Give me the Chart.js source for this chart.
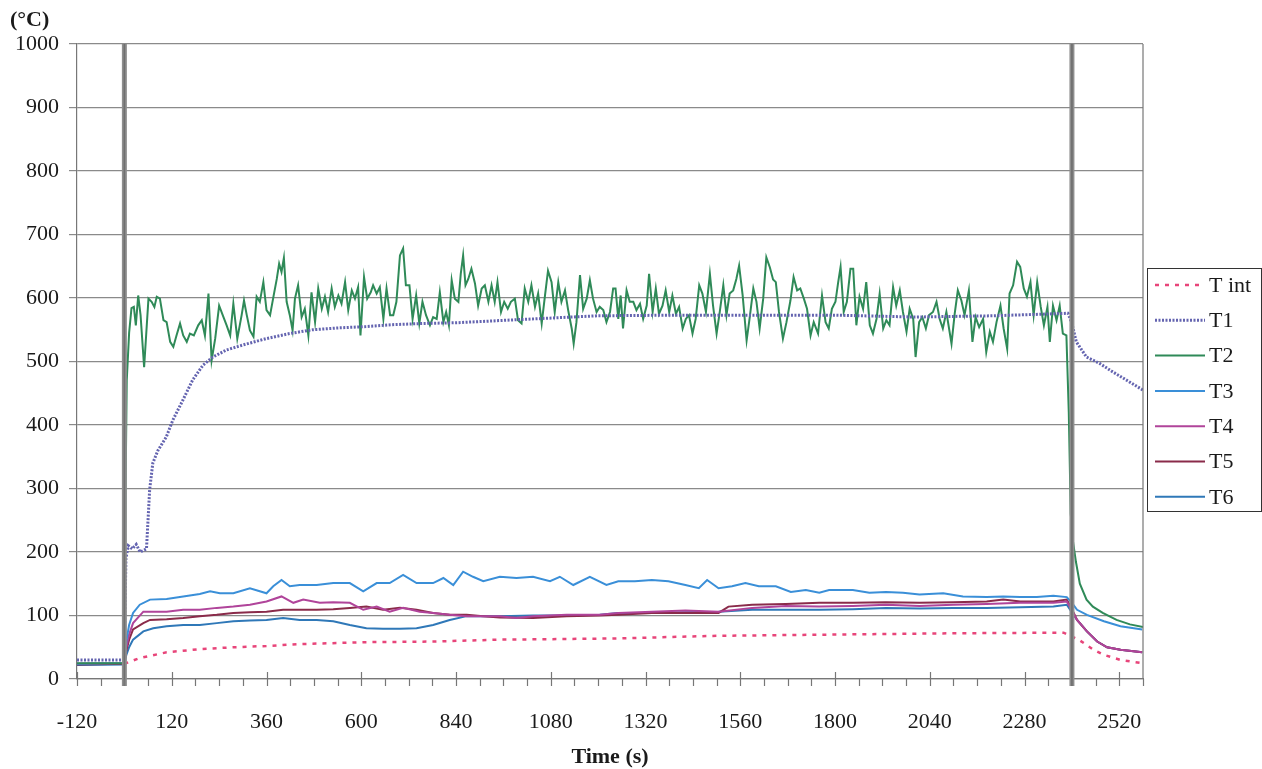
<!DOCTYPE html>
<html>
<head>
<meta charset="utf-8">
<script src="https://cdn.jsdelivr.net/npm/chart.js@4.4.0/dist/chart.umd.min.js"></script>
<style>
  body { margin: 0; background: #fff; }
  #wrap { width: 1262px; height: 769px; }
</style>
</head>
<body>
<div id="wrap"><canvas id="myChart" width="1262" height="769"></canvas></div>
<script>
// temps (°C) vs time (s); fire between 0 and 2400 s
const xTicks = [-120, 120, 360, 600, 840, 1080, 1320, 1560, 1800, 2040, 2280, 2520];
const fireStart = 0;
const fireEnd = 2400;
const seriesNames = ['T int', 'T1', 'T2', 'T3', 'T4', 'T5', 'T6'];

const tInt = [0, 39, 107, 191, 276, 360, 444, 613, 782, 951, 1120, 1251, 1500, 1800, 2100, 2379, 2417, 2455, 2481, 2523, 2578];
const vInt = [24, 33, 42, 47, 50, 52, 55, 58, 59, 62, 63, 64, 68, 70, 72, 73, 62, 46, 38, 30, 25];

const tT1 = [-120, -1, 4, 10, 20, 30, 40, 50, 56, 64, 72, 85, 106, 123, 148, 173, 199, 224, 258, 300, 359, 418, 477, 545, 612, 680, 760, 840, 1000, 1200, 1400, 1600, 1800, 2000, 2200, 2300, 2390, 2400, 2411, 2437, 2470, 2500, 2540, 2580];
const vT1 = [30, 30, 190, 210, 205, 212, 200, 203, 205, 298, 340, 360, 381, 408, 439, 471, 494, 507, 518, 526, 536, 544, 550, 553, 555, 558, 560, 561, 566, 572, 573, 573, 573, 570, 572, 574, 576, 560, 531, 507, 497, 485, 470, 455];

const tT2 = [-120, 0, 3, 6, 12, 18, 24, 29, 35, 41, 50, 61, 69, 76, 82, 90, 99, 107, 116, 124, 132, 141, 149, 158, 166, 176, 187, 196, 204, 213, 221, 230, 240, 251, 259, 268, 276, 286, 297, 303, 310, 318, 327, 335, 343, 352, 360, 369, 379, 386, 392, 398, 404, 411, 419, 426, 432, 440, 449, 457, 466, 474, 483, 491, 500, 508, 516, 525, 533, 542, 550, 559, 567, 576, 584, 592, 598, 607, 615, 624, 630, 639, 647, 656, 664, 673, 681, 689, 698, 706, 713, 722, 730, 739, 747, 755, 764, 774, 782, 791, 799, 808, 815, 822, 829, 837, 846, 852, 858, 864, 871, 879, 888, 896, 905, 913, 922, 930, 938, 945, 954, 962, 971, 979, 989, 997, 1006, 1014, 1023, 1031, 1040, 1048, 1057, 1065, 1073, 1082, 1090, 1099, 1107, 1116, 1124, 1133, 1138, 1145, 1154, 1162, 1171, 1179, 1187, 1196, 1204, 1213, 1221, 1230, 1238, 1244, 1251, 1257, 1263, 1272, 1280, 1289, 1297, 1306, 1314, 1323, 1329, 1338, 1346, 1354, 1363, 1371, 1380, 1388, 1397, 1405, 1414, 1422, 1430, 1439, 1447, 1456, 1464, 1473, 1483, 1491, 1500, 1508, 1517, 1525, 1533, 1542, 1550, 1557, 1566, 1576, 1584, 1593, 1601, 1609, 1618, 1626, 1635, 1643, 1650, 1658, 1668, 1677, 1687, 1695, 1704, 1712, 1721, 1729, 1738, 1746, 1757, 1767, 1776, 1784, 1792, 1801, 1808, 1814, 1822, 1830, 1839, 1846, 1854, 1862, 1871, 1879, 1888, 1896, 1905, 1913, 1922, 1930, 1938, 1947, 1955, 1964, 1972, 1981, 1989, 1998, 2004, 2013, 2021, 2030, 2038, 2048, 2057, 2065, 2073, 2082, 2095, 2103, 2111, 2120, 2128, 2139, 2148, 2156, 2165, 2175, 2183, 2192, 2200, 2209, 2219, 2227, 2236, 2242, 2251, 2261, 2269, 2278, 2286, 2295, 2303, 2312, 2321, 2329, 2338, 2344, 2352, 2361, 2369, 2377, 2386, 2392, 2397, 2403, 2410, 2420, 2437, 2453, 2478, 2513, 2547, 2580];
const vT2 = [25, 25, 300, 470, 545, 584, 586, 557, 604, 573, 491, 599, 594, 586, 602, 599, 565, 562, 531, 523, 541, 560, 541, 531, 544, 541, 557, 565, 541, 607, 502, 536, 588, 570, 557, 541, 591, 536, 573, 596, 573, 549, 539, 602, 594, 625, 581, 573, 607, 630, 654, 641, 663, 594, 573, 549, 599, 620, 570, 583, 541, 609, 562, 615, 583, 602, 578, 615, 586, 604, 591, 625, 581, 612, 599, 617, 541, 633, 599, 609, 620, 607, 617, 567, 615, 573, 573, 594, 667, 678, 620, 620, 567, 604, 560, 594, 573, 557, 570, 567, 609, 562, 578, 557, 628, 599, 594, 638, 667, 620, 630, 646, 623, 588, 615, 620, 594, 620, 594, 625, 578, 594, 583, 594, 599, 565, 560, 615, 594, 620, 586, 607, 560, 602, 643, 625, 578, 625, 594, 612, 581, 552, 528, 562, 636, 583, 599, 628, 599, 578, 586, 581, 562, 578, 615, 615, 567, 604, 552, 612, 594, 594, 581, 591, 567, 588, 638, 578, 615, 575, 588, 612, 578, 604, 575, 586, 552, 567, 573, 544, 567, 620, 607, 578, 638, 588, 544, 578, 620, 573, 607, 612, 630, 651, 604, 533, 570, 615, 594, 552, 599, 664, 648, 629, 625, 578, 536, 562, 596, 633, 612, 615, 599, 583, 541, 562, 544, 604, 562, 552, 583, 594, 625, 649, 578, 594, 646, 646, 557, 602, 583, 625, 557, 544, 567, 607, 552, 565, 557, 617, 588, 612, 578, 547, 583, 567, 507, 562, 570, 552, 573, 578, 594, 567, 552, 578, 528, 575, 612, 596, 573, 612, 531, 570, 554, 567, 515, 547, 531, 562, 588, 552, 520, 607, 620, 657, 649, 615, 602, 625, 573, 625, 586, 557, 586, 531, 588, 565, 588, 544, 541, 420, 260, 215, 185, 150, 125, 114, 104, 93, 86, 82];

const tT3 = [-120, 0, 5, 12, 22, 39, 65, 107, 149, 191, 217, 242, 276, 318, 360, 377, 398, 419, 444, 487, 529, 571, 605, 639, 672, 706, 740, 782, 808, 833, 858, 883, 909, 951, 993, 1035, 1078, 1103, 1137, 1179, 1221, 1251, 1293, 1336, 1378, 1421, 1455, 1476, 1505, 1539, 1573, 1607, 1650, 1688, 1726, 1760, 1785, 1845, 1887, 1929, 1972, 2014, 2074, 2124, 2184, 2226, 2269, 2311, 2353, 2387, 2400, 2413, 2438, 2481, 2523, 2578];
const vT3 = [24, 25, 60, 85, 104, 117, 125, 126, 130, 134, 138, 135, 135, 143, 135, 146, 156, 146, 148, 148, 151, 151, 138, 151, 151, 164, 151, 151, 159, 148, 169, 161, 154, 161, 159, 161, 154, 161, 148, 161, 148, 154, 154, 156, 154, 148, 143, 156, 143, 146, 151, 146, 146, 137, 140, 136, 140, 140, 136, 137, 136, 133, 135, 130, 129, 130, 129, 129, 131, 129, 120, 109, 101, 91, 83, 78];

const tT4 = [-120, 0, 5, 12, 22, 48, 107, 149, 191, 234, 276, 318, 360, 398, 428, 453, 495, 529, 571, 605, 639, 672, 706, 748, 782, 824, 867, 909, 951, 993, 1035, 1120, 1204, 1251, 1336, 1421, 1505, 1590, 1675, 1760, 1845, 1929, 2014, 2099, 2184, 2269, 2353, 2387, 2400, 2413, 2438, 2464, 2489, 2523, 2578];
const vT4 = [24, 25, 50, 70, 88, 106, 106, 109, 109, 112, 114, 117, 122, 130, 120, 125, 120, 121, 120, 109, 114, 106, 112, 106, 104, 101, 99, 99, 99, 96, 99, 101, 101, 104, 106, 108, 106, 112, 115, 114, 115, 117, 115, 117, 118, 120, 120, 122, 108, 93, 75, 59, 50, 46, 42];

const tT5 = [-120, 0, 5, 12, 22, 48, 65, 107, 149, 191, 234, 276, 318, 360, 402, 444, 487, 529, 571, 613, 655, 698, 740, 782, 824, 867, 909, 951, 1035, 1120, 1204, 1251, 1336, 1421, 1505, 1530, 1590, 1675, 1760, 1845, 1929, 2014, 2099, 2184, 2226, 2269, 2353, 2387, 2400, 2413, 2438, 2464, 2489, 2523, 2578];
const vT5 = [23, 24, 45, 62, 78, 88, 93, 94, 96, 99, 101, 104, 105, 106, 109, 109, 109, 110, 112, 114, 109, 112, 109, 104, 101, 101, 99, 97, 96, 99, 100, 101, 104, 104, 104, 114, 117, 118, 120, 120, 121, 120, 121, 122, 125, 122, 122, 125, 110, 93, 75, 59, 50, 46, 42];

const tT6 = [-120, 0, 5, 12, 22, 48, 73, 107, 149, 191, 234, 276, 318, 360, 402, 444, 487, 529, 571, 613, 655, 698, 740, 782, 824, 867, 909, 951, 1035, 1120, 1204, 1251, 1336, 1421, 1505, 1590, 1675, 1760, 1845, 1929, 2014, 2099, 2184, 2269, 2353, 2387, 2400, 2413, 2438, 2464, 2489, 2523, 2578];
const vT6 = [22, 23, 38, 50, 62, 75, 80, 83, 85, 85, 88, 91, 92, 93, 96, 93, 93, 91, 85, 80, 79, 79, 80, 85, 93, 99, 99, 99, 100, 100, 101, 104, 104, 105, 106, 109, 109, 109, 110, 112, 111, 112, 112, 113, 114, 117, 105, 93, 75, 59, 50, 46, 42];

const serifFont = '"Liberation Serif", "Times New Roman", serif';

function pts(ts, vs) {
    return ts.map((t, i) => ({ x: t, y: vs[i] }));
}

let datasets = [
    { label: seriesNames[0], data: pts(tInt, vInt), borderColor: '#e8457a', borderWidth: 2.5, borderDash: [4, 6] },
    { label: seriesNames[1], data: pts(tT1, vT1), borderColor: '#6464b0', borderWidth: 3, borderDash: [2, 1.5] },
    { label: seriesNames[2], data: pts(tT2, vT2), borderColor: '#2f8a58', borderWidth: 2 },
    { label: seriesNames[3], data: pts(tT3, vT3), borderColor: '#3a8fd8', borderWidth: 2 },
    { label: seriesNames[4], data: pts(tT4, vT4), borderColor: '#b0449a', borderWidth: 2 },
    { label: seriesNames[5], data: pts(tT5, vT5), borderColor: '#8a2b4a', borderWidth: 2 },
    { label: seriesNames[6], data: pts(tT6, vT6), borderColor: '#2f78b8', borderWidth: 2 }
];
datasets.forEach(d => { d.pointRadius = 0; d.tension = 0; d.fill = false; });

// grey fire start / end bars, x ticks, right border
const extras = {
    id: 'extras',
    afterDatasetsDraw(chart) {
        const c = chart.ctx;
        const a = chart.chartArea;
        const xs = chart.scales.x;
        c.save();
        [fireStart, fireEnd].forEach(t => {
            const px = xs.getPixelForValue(t);
            c.fillStyle = '#8e8e8e';
            c.fillRect(px - 2.5, a.top, 5, a.bottom - a.top + 7);
            c.fillStyle = '#6f6f6f';
            c.fillRect(px - 0.8, a.top, 1.6, a.bottom - a.top + 7);
        });
        c.strokeStyle = '#777';
        c.lineWidth = 1.2;
        c.beginPath();
        c.moveTo(a.right, a.top);
        c.lineTo(a.right, a.bottom);
        for (let t = -120; t <= 2580; t += 60) {
            const px = Math.round(xs.getPixelForValue(t)) + 0.5;
            const major = (t + 120) % 240 === 0;
            c.moveTo(px, major ? a.bottom - 7 : a.bottom);
            c.lineTo(px, a.bottom + 7);
        }
        c.stroke();
        c.restore();
    },
    afterDraw(chart) {
        const c = chart.ctx;
        c.save();
        // titles
        c.fillStyle = '#1a1a1a';
        c.font = 'bold 22px ' + serifFont;
        c.textBaseline = 'middle';
        c.textAlign = 'left';
        c.fillText('(°C)', 10, 20);
        c.textAlign = 'center';
        c.fillText('Time (s)', (chart.chartArea.left + chart.chartArea.right) / 2, 757);
        // legend
        const bx = 1147, by = 268, bw = 114, bh = 243;
        c.fillStyle = '#fff';
        c.fillRect(bx, by, bw, bh);
        c.strokeStyle = '#333';
        c.lineWidth = 1;
        c.strokeRect(bx + 0.5, by + 0.5, bw, bh);
        c.font = '22px ' + serifFont;
        c.textAlign = 'left';
        chart.data.datasets.forEach((d, i) => {
            const y = by + 17 + i * 35.3;
            c.strokeStyle = d.borderColor;
            c.lineWidth = d.borderWidth;
            c.setLineDash(d.borderDash || []);
            c.beginPath();
            c.moveTo(1155, y);
            c.lineTo(1205, y);
            c.stroke();
            c.setLineDash([]);
            c.fillStyle = '#1a1a1a';
            c.fillText(d.label, 1209, y + 1);
        });
        c.restore();
    }
};

const ctx = document.getElementById('myChart').getContext('2d');
const grafica = new Chart(ctx, {
    type: 'line',
    data: { datasets: datasets },
    options: {
        responsive: false,
        animation: false,
        layout: { padding: { left: 0, right: 119, top: 44, bottom: 0 } },
        plugins: { legend: { display: false }, tooltip: { enabled: false } },
        scales: {
            x: {
                type: 'linear',
                min: -120,
                max: 2580,
                afterBuildTicks: s => { s.ticks = xTicks.map(v => ({ value: v })); },
                afterFit: s => { s.height = 90; },
                grid: { display: false },
                border: { display: true, color: '#777', width: 1.2 },
                ticks: {
                    autoSkip: false,
                    maxRotation: 0,
                    padding: 22,
                    color: '#1a1a1a',
                    font: { family: serifFont, size: 22 },
                    callback: v => String(v)
                }
            },
            y: {
                min: 0,
                max: 1000,
                afterFit: s => { s.width = 77; },
                grid: { color: '#8a8a8a', lineWidth: 1.2, tickLength: 8 },
                border: { display: true, color: '#777', width: 1.2 },
                ticks: {
                    stepSize: 100,
                    padding: 10,
                    color: '#1a1a1a',
                    font: { family: serifFont, size: 22 },
                    callback: v => String(v)
                }
            }
        }
    },
    plugins: [extras]
});
</script>
</body>
</html>
